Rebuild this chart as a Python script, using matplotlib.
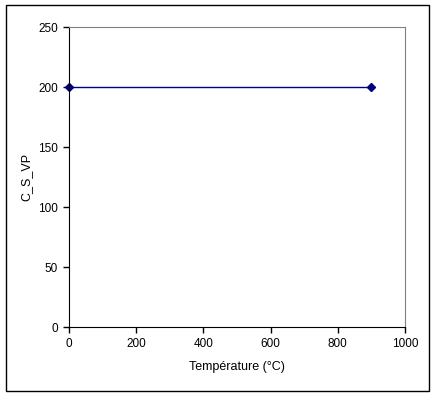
import matplotlib
matplotlib.use("Agg")
import matplotlib.pyplot as plt
from matplotlib.patches import Rectangle

temperature = [0, 900]
c_s_vp = [200, 200]
x_ticks = [0, 200, 400, 600, 800, 1000]
y_ticks = [0, 50, 100, 150, 200, 250]

plt.rcParams['font.family'] = ['Liberation Sans', 'DejaVu Sans']

fig = plt.figure(figsize=(4.37, 3.97), dpi=100)
fig.patches.append(Rectangle((6 / 437, 1 - 391 / 397), 423 / 437, 386 / 397,
                             transform=fig.transFigure, fill=False,
                             edgecolor='black', linewidth=1))

ax = fig.add_axes([69 / 437, 1 - 327 / 397, 336 / 437, 300 / 397])
ax.plot(temperature, c_s_vp, color='#000080', linewidth=1,
        marker='D', markersize=4, markerfacecolor='#000080',
        markeredgecolor='#000080', clip_on=False)

ax.set_xlim(0, 1000)
ax.set_ylim(0, 250)
ax.set_xticks(x_ticks)
ax.set_yticks(y_ticks)
ax.tick_params(direction='out', length=4, width=1, labelsize=8.5, pad=4)

ax.spines['top'].set_color('#808080')
ax.spines['right'].set_color('#808080')
for s in ['left', 'bottom']:
    ax.spines[s].set_color('black')

ax.set_xlabel('Température (°C)', fontsize=9, labelpad=8)
ax.set_ylabel('C_S_VP', fontsize=9, labelpad=4)

fig.savefig('out.png', dpi=100)
